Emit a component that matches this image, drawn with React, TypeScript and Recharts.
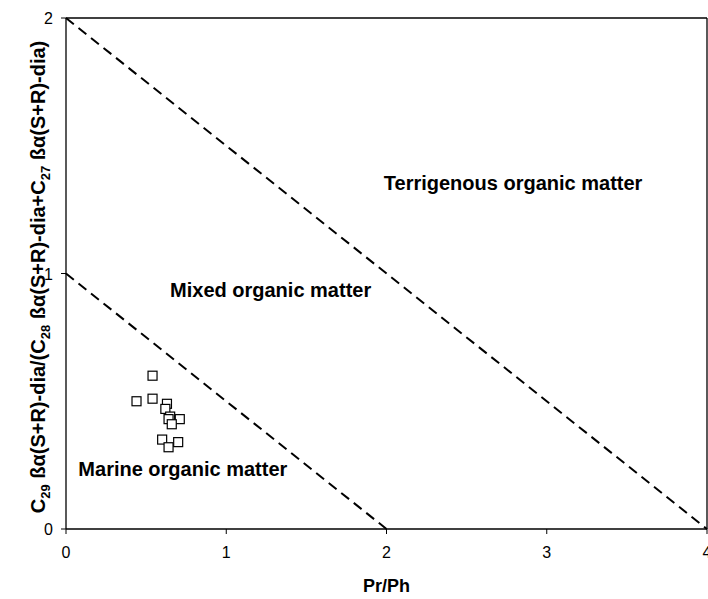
import React from "react";
import {
  ScatterChart,
  Scatter,
  XAxis,
  YAxis,
  ReferenceLine,
  ReferenceDot,
} from "recharts";

// Pr/Ph vs C29 / (C28 + C27) diasteranes
const prPh = [0.54, 0.44, 0.54, 0.63, 0.62, 0.65, 0.64, 0.71, 0.66, 0.6, 0.64, 0.7];
const steraneRatio = [0.6, 0.5, 0.51, 0.49, 0.47, 0.44, 0.43, 0.43, 0.41, 0.35, 0.32, 0.34];

const xTicks = [0, 1, 2, 3, 4];
const yTicks = [0, 1, 2];

// boundary lines between the fields
const upperBoundary = [
  { x: 0, y: 2 },
  { x: 4, y: 0 },
];
const lowerBoundary = [
  { x: 0, y: 1 },
  { x: 2, y: 0 },
];

const fieldLabels = [
  { x: 2.79, y: 1.354, text: "Terrigenous organic matter" },
  { x: 1.277, y: 0.935, text: "Mixed organic matter" },
  { x: 0.729, y: 0.235, text: "Marine organic matter" },
];

const data = prPh.map((x, i) => ({ x, y: steraneRatio[i] }));

const FONT = "'Liberation Sans', Arial, sans-serif";

const Square = (props: any) => {
  const { cx, cy } = props;
  if (cx == null || cy == null) return null;
  return (
    <rect
      x={cx - 4.5}
      y={cy - 4.5}
      width={9}
      height={9}
      fill="#fff"
      stroke="#000"
      strokeWidth={1.2}
    />
  );
};

const XTick = (props: any) => {
  const { x, y, payload } = props;
  return (
    <text
      x={x}
      y={y + 22}
      textAnchor="middle"
      fontFamily={FONT}
      fontSize={16}
      fill="#000"
    >
      {payload.value}
    </text>
  );
};

const YTick = (props: any) => {
  const { x, y, payload } = props;
  return (
    <text
      x={x - 6}
      y={y + 6}
      textAnchor="end"
      fontFamily={FONT}
      fontSize={16}
      fill="#000"
    >
      {payload.value}
    </text>
  );
};

const YLabel = () => (
  <text
    x={38}
    y={277}
    transform="rotate(-90 38 277)"
    textAnchor="middle"
    dominantBaseline="central"
    fontFamily={FONT}
    fontWeight="bold"
    fontSize={20}
    fill="#000"
  >
    C<tspan fontSize={13} baselineShift="sub">29</tspan>
    <tspan> ßα(S+R)-dia/(C</tspan>
    <tspan fontSize={13} baselineShift="sub">28</tspan>
    <tspan> ßα(S+R)-dia+C</tspan>
    <tspan fontSize={13} baselineShift="sub">27</tspan>
    <tspan> ßα(S+R)-dia)</tspan>
  </text>
);

export default function App() {
  return (
    <div style={{ width: 708, height: 599, background: "#fff", position: "relative" }}>
      <style>{`body{margin:0}`}</style>
      <ScatterChart
        width={708}
        height={599}
        margin={{ top: 18, right: 1, bottom: 0, left: 0 }}
      >
        <XAxis
          type="number"
          dataKey="x"
          domain={[0, 4]}
          ticks={xTicks}
          height={70}
          tickSize={5}
          axisLine={{ stroke: "#000", strokeWidth: 1.3 }}
          tickLine={{ stroke: "#000" }}
          tick={<XTick />}
          interval={0}
          allowDataOverflow
          label={{
            value: "Pr/Ph",
            position: "insideBottom",
            offset: 7,
            fill: "#000",
            fontSize: 18,
            fontWeight: "bold",
            fontFamily: FONT,
          }}
        />
        <YAxis
          type="number"
          dataKey="y"
          domain={[0, 2]}
          ticks={yTicks}
          width={66}
          tickSize={5}
          axisLine={{ stroke: "#000", strokeWidth: 1.3 }}
          tickLine={{ stroke: "#000" }}
          tick={<YTick />}
          interval={0}
          allowDataOverflow
        />
        <ReferenceLine y={2} stroke="#000" strokeWidth={1.3} />
        <ReferenceLine x={4} stroke="#000" strokeWidth={1.3} />
        <ReferenceLine
          segment={upperBoundary}
          stroke="#000"
          strokeWidth={2}
          strokeDasharray="10 6"
        />
        <ReferenceLine
          segment={lowerBoundary}
          stroke="#000"
          strokeWidth={2}
          strokeDasharray="10 6"
        />
        {fieldLabels.map((f) => (
          <ReferenceDot
            key={f.text}
            x={f.x}
            y={f.y}
            r={1}
            fill="none"
            stroke="none"
            label={{
              value: f.text,
              position: "center",
              fill: "#000",
              fontSize: 20,
              fontWeight: "bold",
              fontFamily: FONT,
            }}
          />
        ))}
        <Scatter data={data} shape={Square} isAnimationActive={false} />
      </ScatterChart>
      <svg
        width={708}
        height={599}
        style={{ position: "absolute", left: 0, top: 0, pointerEvents: "none" }}
      >
        <YLabel />
      </svg>
    </div>
  );
}
